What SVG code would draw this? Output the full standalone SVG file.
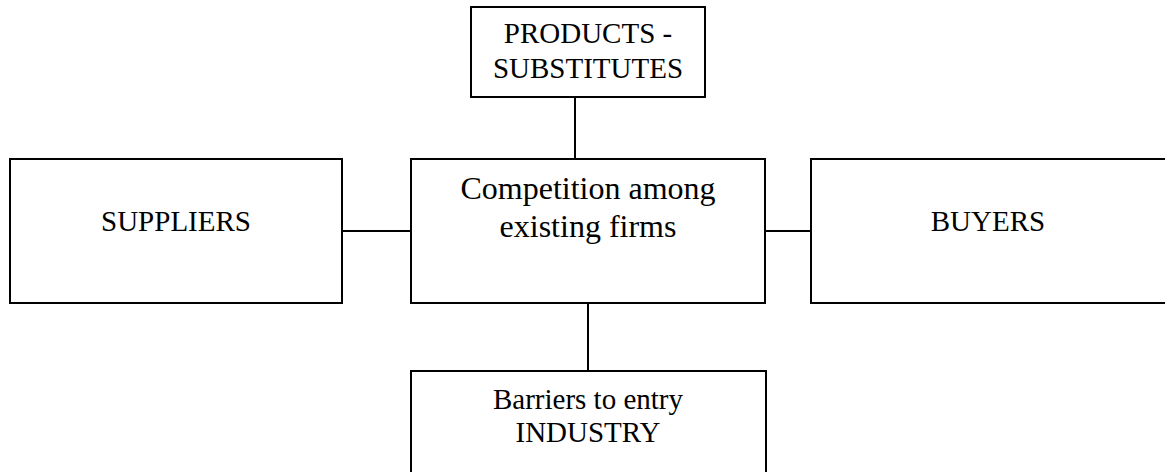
<svg xmlns="http://www.w3.org/2000/svg" width="1165" height="472" viewBox="0 0 1165 472">
<style>
.box{fill:#fff;stroke:#000;stroke-width:2}
.ln{stroke:#000;stroke-width:2;fill:none}
text{font-family:"Liberation Serif","Times New Roman",serif;font-size:29px;fill:#000;text-anchor:middle}
.big{font-size:32px}
</style>
<rect width="1165" height="472" fill="#fff"/>
<g id="connectors">
<line class="ln" x1="575" y1="97" x2="575" y2="159"/>
<line class="ln" x1="342" y1="231" x2="411" y2="231"/>
<line class="ln" x1="765" y1="231" x2="811" y2="231"/>
<line class="ln" x1="588" y1="303" x2="588" y2="371"/>
</g>
<g id="products">
<rect class="box" x="471" y="7" width="234" height="90"/>
<text x="588" y="43">PRODUCTS -</text>
<text x="588" y="78">SUBSTITUTES</text>
</g>
<g id="suppliers">
<rect class="box" x="10" y="159" width="332" height="144"/>
<text x="176" y="231">SUPPLIERS</text>
</g>
<g id="competition">
<rect class="box" x="411" y="159" width="354" height="144"/>
<text class="big" x="588" y="199">Competition among</text>
<text class="big" x="588" y="237">existing firms</text>
</g>
<g id="buyers">
<rect class="box" x="811" y="159" width="356" height="144"/>
<text x="988" y="231">BUYERS</text>
</g>
<g id="barriers">
<rect class="box" x="411" y="371" width="355" height="110"/>
<text x="588" y="409">Barriers to entry</text>
<text x="588" y="442">INDUSTRY</text>
</g>
</svg>
